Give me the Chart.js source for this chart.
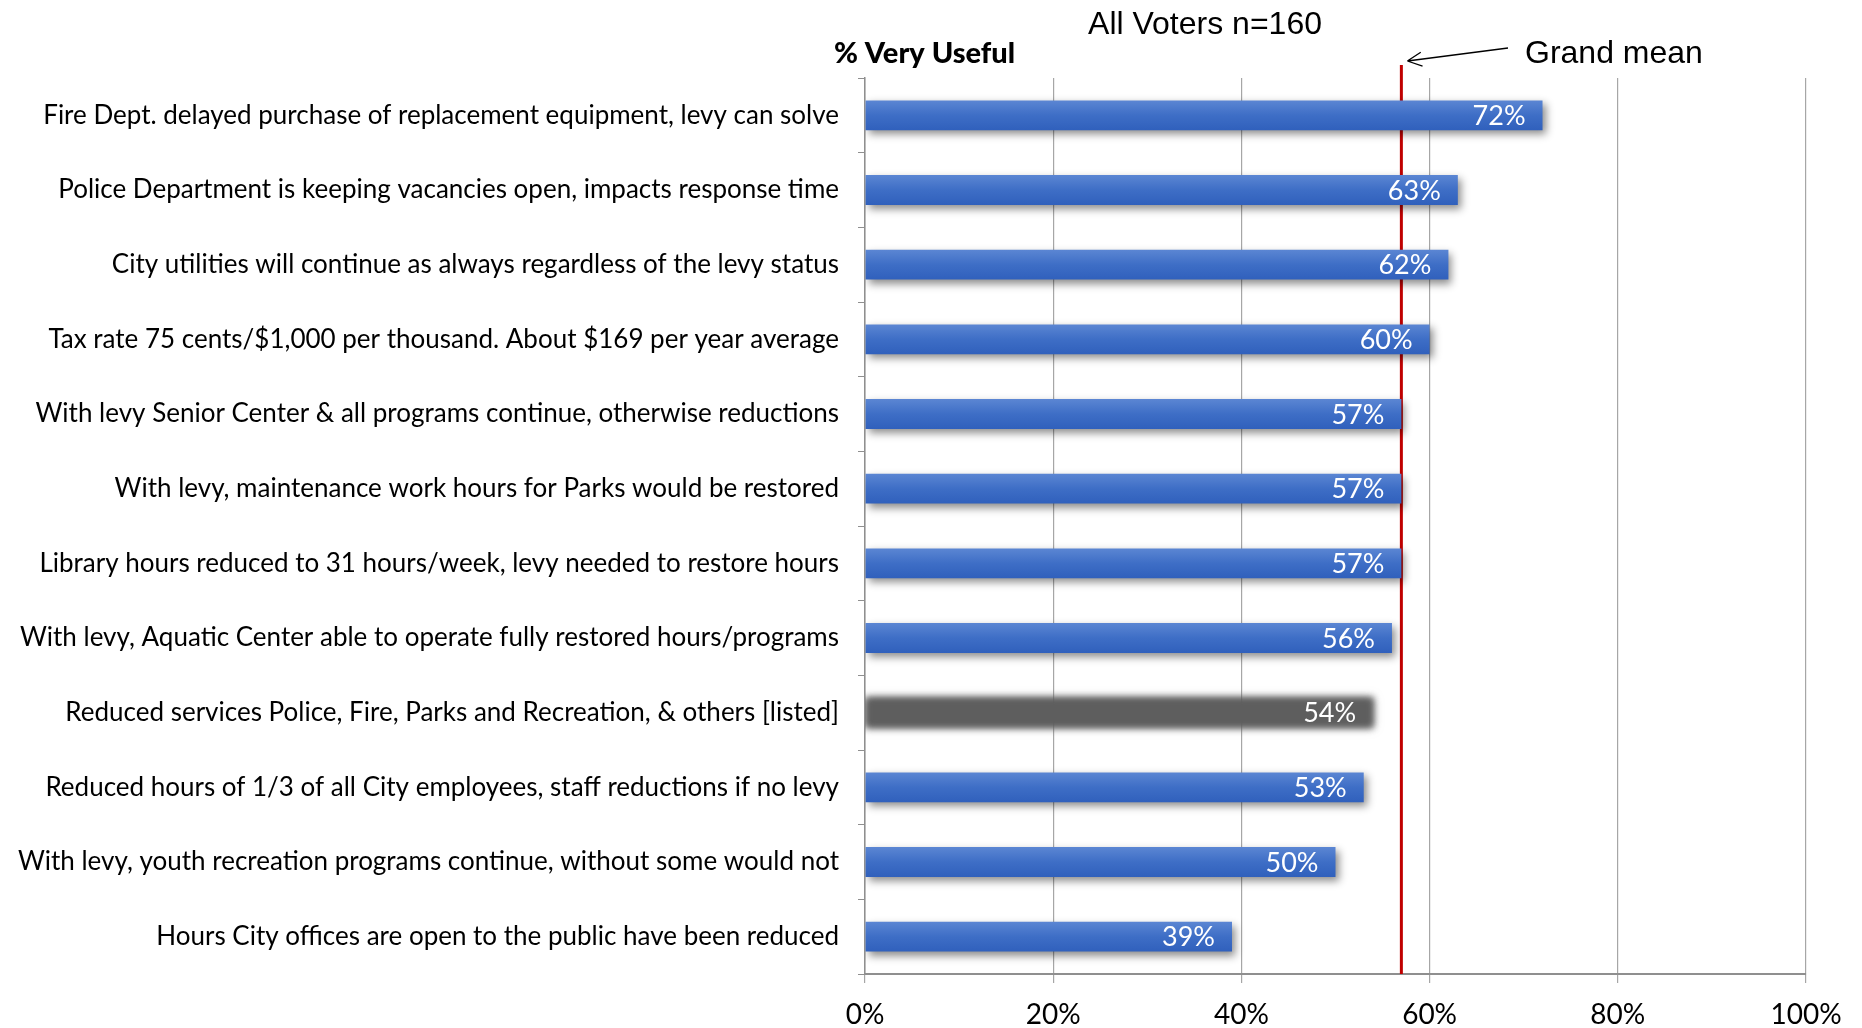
<!DOCTYPE html>
<html>
<head>
<meta charset="utf-8">
<script src="https://cdn.jsdelivr.net/npm/chart.js@4"></script>
<style>
  html, body { margin: 0; padding: 0; background: #fff; }
  canvas { display: block; }
</style>
</head>
<body>
<canvas id="c" width="1862" height="1028"></canvas>
<script>
const categories = [
  "Fire Dept. delayed purchase of replacement equipment, levy can solve",
  "Police Department is keeping vacancies open, impacts response time",
  "City utilities will continue as always regardless of the levy status",
  "Tax rate 75 cents/$1,000 per thousand. About $169 per year average",
  "With levy Senior Center & all programs continue, otherwise reductions",
  "With levy, maintenance work hours for Parks would be restored",
  "Library hours reduced to 31 hours/week, levy needed to restore hours",
  "With levy, Aquatic Center able to operate fully restored hours/programs",
  "Reduced services Police, Fire, Parks and Recreation, & others [listed]",
  "Reduced hours of 1/3 of all City employees, staff reductions if no levy",
  "With levy, youth recreation programs continue, without some would not",
  "Hours City offices are open to the public have been reduced"
];
const veryUseful = [72, 63, 62, 60, 57, 57, 57, 56, 54, 53, 50, 39];
const highlightIndex = [8];
const grandMean = 57;
const xTicks = [0, 20, 40, 60, 80, 100];
const chartTitle = "All Voters n=160";
const axisTitle = "% Very Useful";
const meanLabel = "Grand mean";

const LABEL_FONT = "Lato";

const decorPlugin = {
  id: 'decor',
  afterUpdate(chart) {
    const meta = chart.getDatasetMeta(0);
    meta.data.forEach((el, i) => {
      if (el._wrapped) return;
      el._wrapped = true;
      const orig = el.draw.bind(el);
      const grey = highlightIndex.includes(i);
      el.draw = function (ctx) {
        ctx.save();
        if (grey) {
          ctx.filter = 'blur(3px)';
          ctx.shadowColor = 'rgba(96,96,96,0.8)';
          ctx.shadowBlur = 6;
          ctx.shadowOffsetX = 0;
          ctx.shadowOffsetY = 0;
        } else {
          ctx.shadowColor = 'rgba(0,0,0,0.45)';
          ctx.shadowBlur = 8;
          ctx.shadowOffsetX = 3;
          ctx.shadowOffsetY = 4;
        }
        orig(ctx);
        ctx.restore();
      };
    });
  },
  beforeDatasetsDraw(chart) {
    const ctx = chart.ctx;
    const meta = chart.getDatasetMeta(0);
    const xs = chart.scales.x;
    const area = chart.chartArea;
    const mx = xs.getPixelForValue(grandMean);
    ctx.save();
    ctx.strokeStyle = '#C00000';
    ctx.lineWidth = 3;
    ctx.beginPath();
    ctx.moveTo(mx, 65);
    ctx.lineTo(mx, area.bottom);
    ctx.stroke();
    ctx.restore();
    meta.data.forEach((el, i) => {
      let fill;
      if (highlightIndex.includes(i)) {
        fill = '#5E5E5E';
      } else {
        const h = el.height;
        const g = ctx.createLinearGradient(0, el.y - h / 2, 0, el.y + h / 2);
        g.addColorStop(0, '#5B86D3');
        g.addColorStop(0.5, '#3E6EC6');
        g.addColorStop(1, '#3060BC');
        fill = g;
      }
      el.options = Object.assign({}, el.options, { backgroundColor: fill });
    });
  },
  afterDatasetsDraw(chart) {
    const ctx = chart.ctx;
    const meta = chart.getDatasetMeta(0);
    ctx.save();
    ctx.fillStyle = '#FFFFFF';
    ctx.font = '27px ' + LABEL_FONT;
    ctx.textAlign = 'right';
    ctx.textBaseline = 'middle';
    meta.data.forEach((el, i) => {
      ctx.fillText(veryUseful[i] + '%', el.x - 17, el.y + 1);
    });
    ctx.restore();
  },
  afterDraw(chart) {
    const ctx = chart.ctx;
    const xs = chart.scales.x;
    const mx = xs.getPixelForValue(grandMean);
    ctx.save();
    ctx.fillStyle = '#000';
    ctx.textBaseline = 'middle';
    ctx.textAlign = 'center';
    ctx.font = '32px "Liberation Sans"';
    ctx.fillText(chartTitle, 1205, 25);
    ctx.textAlign = 'left';
    ctx.font = '900 29px ' + LABEL_FONT;
    ctx.fillText(axisTitle, 834, 54);
    ctx.font = '32px "Liberation Sans"';
    ctx.fillText(meanLabel, 1525, 54);
    const tipX = mx + 6, tipY = 61;
    const tailX = 1508, tailY = 48;
    ctx.strokeStyle = '#000';
    ctx.lineWidth = 1.3;
    ctx.beginPath();
    ctx.moveTo(tailX, tailY);
    ctx.lineTo(tipX, tipY);
    const ang = Math.atan2(tipY - tailY, tipX - tailX);
    const L = 16, spread = 0.45;
    ctx.moveTo(tipX, tipY);
    ctx.lineTo(tipX - L * Math.cos(ang - spread), tipY - L * Math.sin(ang - spread));
    ctx.moveTo(tipX, tipY);
    ctx.lineTo(tipX - L * Math.cos(ang + spread), tipY - L * Math.sin(ang + spread));
    ctx.stroke();
    ctx.restore();
  }
};

new Chart(document.getElementById('c'), {
  type: 'bar',
  data: {
    labels: categories,
    datasets: [{
      data: veryUseful,
      backgroundColor: (c) => highlightIndex.includes(c.dataIndex) ? '#5E5E5E' : '#3E6EC6',
      borderWidth: 0,
      categoryPercentage: 1,
      barPercentage: 0.4
    }]
  },
  options: {
    indexAxis: 'y',
    responsive: false,
    animation: false,
    devicePixelRatio: 1,
    layout: { padding: { top: 78, right: 56, left: 0, bottom: 0 } },
    plugins: {
      legend: { display: false },
      tooltip: { enabled: false },
      title: { display: false }
    },
    scales: {
      x: {
        type: 'linear',
        min: 0,
        max: 100,
        afterBuildTicks(scale) { scale.ticks = xTicks.map(v => ({ value: v })); },
        afterFit(scale) { scale.height = 54; },
        ticks: {
          callback: v => v + '%',
          color: '#000',
          font: { family: LABEL_FONT, size: 28 },
          padding: 15,
          maxRotation: 0
        },
        grid: { color: '#A6A6A6', lineWidth: 1.2, drawTicks: true, tickLength: 9 },
        border: { display: true, color: '#8F8F8F', width: 2 }
      },
      y: {
        type: 'category',
        afterFit(scale) { scale.width = 865; },
        ticks: {
          color: '#000',
          font: { family: LABEL_FONT, size: 26 },
          padding: 19,
          autoSkip: false
        },
        grid: { display: true, drawOnChartArea: false, drawTicks: true, tickLength: 7, color: '#8F8F8F', offset: true },
        border: { display: true, color: '#8F8F8F', width: 1.5 }
      }
    }
  },
  plugins: [decorPlugin]
});
</script>
</body>
</html>
